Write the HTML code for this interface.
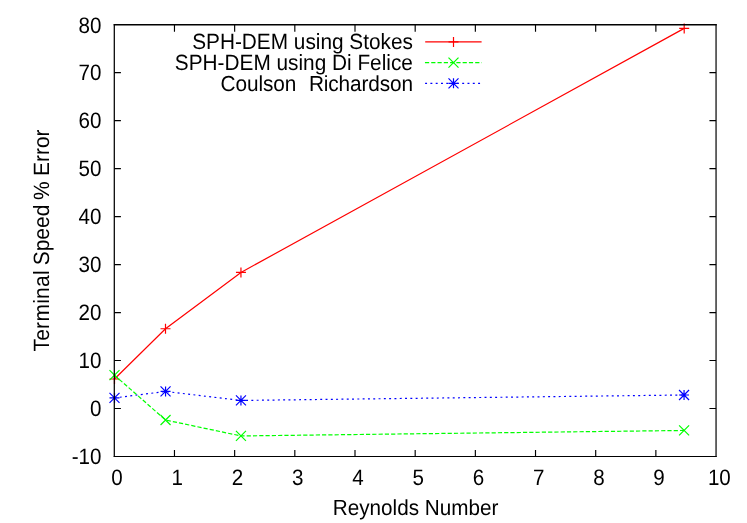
<!DOCTYPE html>
<html><head><meta charset="utf-8"><title>plot</title>
<style>
html,body{margin:0;padding:0;background:#fff;}
body{width:747px;height:523px;overflow:hidden;font-family:"Liberation Sans",sans-serif;}
svg{display:block;}
</style></head><body>
<svg width="747" height="523" viewBox="0 0 747 523" style="will-change:transform">
<rect width="747" height="523" fill="#fff"/>
<g font-family="Liberation Sans, sans-serif" fill="#000" text-rendering="geometricPrecision"><text transform="translate(101.50,463.80) scale(1,1.085)" text-anchor="end" font-size="20.6" xml:space="preserve">-10</text><text transform="translate(101.50,416.12) scale(1,1.085)" text-anchor="end" font-size="20.6" xml:space="preserve">0</text><text transform="translate(101.50,367.54) scale(1,1.085)" text-anchor="end" font-size="20.6" xml:space="preserve">10</text><text transform="translate(101.50,319.67) scale(1,1.085)" text-anchor="end" font-size="20.6" xml:space="preserve">20</text><text transform="translate(101.50,271.79) scale(1,1.085)" text-anchor="end" font-size="20.6" xml:space="preserve">30</text><text transform="translate(101.50,223.51) scale(1,1.085)" text-anchor="end" font-size="20.6" xml:space="preserve">40</text><text transform="translate(101.50,175.73) scale(1,1.085)" text-anchor="end" font-size="20.6" xml:space="preserve">50</text><text transform="translate(101.50,127.96) scale(1,1.085)" text-anchor="end" font-size="20.6" xml:space="preserve">60</text><text transform="translate(101.50,80.38) scale(1,1.085)" text-anchor="end" font-size="20.6" xml:space="preserve">70</text><text transform="translate(101.50,32.60) scale(1,1.085)" text-anchor="end" font-size="20.6" xml:space="preserve">80</text><text transform="translate(116.90,484.50) scale(1,1.085)" text-anchor="middle" font-size="20.6" xml:space="preserve">0</text><text transform="translate(177.14,484.50) scale(1,1.085)" text-anchor="middle" font-size="20.6" xml:space="preserve">1</text><text transform="translate(237.39,484.50) scale(1,1.085)" text-anchor="middle" font-size="20.6" xml:space="preserve">2</text><text transform="translate(297.63,484.50) scale(1,1.085)" text-anchor="middle" font-size="20.6" xml:space="preserve">3</text><text transform="translate(357.88,484.50) scale(1,1.085)" text-anchor="middle" font-size="20.6" xml:space="preserve">4</text><text transform="translate(418.13,484.50) scale(1,1.085)" text-anchor="middle" font-size="20.6" xml:space="preserve">5</text><text transform="translate(478.37,484.50) scale(1,1.085)" text-anchor="middle" font-size="20.6" xml:space="preserve">6</text><text transform="translate(538.62,484.50) scale(1,1.085)" text-anchor="middle" font-size="20.6" xml:space="preserve">7</text><text transform="translate(598.86,484.50) scale(1,1.085)" text-anchor="middle" font-size="20.6" xml:space="preserve">8</text><text transform="translate(659.10,484.50) scale(1,1.085)" text-anchor="middle" font-size="20.6" xml:space="preserve">9</text><text transform="translate(719.35,484.50) scale(1,1.085)" text-anchor="middle" font-size="20.6" xml:space="preserve">10</text><text transform="translate(415.60,515.40) scale(1,1.055)" text-anchor="middle" font-size="20.7" xml:space="preserve">Reynolds Number</text><text transform="translate(49.00,351.60) rotate(-90) scale(1,1.055)" text-anchor="start" font-size="20.95" xml:space="preserve"><tspan letter-spacing="0.3">Terminal</tspan><tspan dx="-1.0"> Speed</tspan><tspan dx="-1.0"> %</tspan><tspan dx="-0.5"> Error</tspan></text><text transform="translate(412.90,48.90) scale(1,1.06)" text-anchor="end" font-size="20.8" xml:space="preserve">SPH-DEM using Stokes</text><text transform="translate(412.90,69.60) scale(1,1.06)" text-anchor="end" font-size="20.8" xml:space="preserve">SPH-DEM using Di Felice</text><text transform="translate(412.90,90.50) scale(1,1.045)" text-anchor="end" font-size="20.8" xml:space="preserve"><tspan letter-spacing="-0.08">Coulson</tspan>  <tspan dx="1.0" letter-spacing="-0.12">Richardson</tspan></text></g>
<g fill="none" stroke="#ff0000" stroke-width="1.2"><path d="M114.5 379.0L165.5 328.75L240.95 272.45L684.2 28.4"/><path d="M425.2 41.95H481.6"/><path d="M109.5 379.0H119.5M114.5 374.0V384.0M160.5 328.75H170.5M165.5 323.75V333.75M235.95 272.45H245.95M240.95 267.45V277.45M679.2 28.4H689.2M684.2 23.4V33.4M448.5 41.95H458.5M453.5 36.95V46.95"/></g>
<g fill="none" stroke="#00ff00" stroke-width="1.2"><path d="M114.5 375.2L165.55 420.0L240.95 435.95L684.1 430.45" stroke-dasharray="4.2 2.08"/><path d="M424.95 62.65H481.8" stroke-dasharray="4.2 2.08"/><path d="M109.5 370.2L119.5 380.2M109.5 380.2L119.5 370.2M160.55 415.0L170.55 425.0M160.55 425.0L170.55 415.0M235.95 430.95L245.95 440.95M235.95 440.95L245.95 430.95M679.1 425.45L689.1 435.45M679.1 435.45L689.1 425.45M448.5 57.65L458.5 67.65M448.5 67.65L458.5 57.65"/></g>
<g fill="none" stroke="#0000ff" stroke-width="1.2"><path d="M114.5 397.9L165.55 391.45L240.95 400.45L684.05 395.0" stroke-dasharray="1.95 3.35"/><path d="M425.1 83.35H480.3" stroke-dasharray="1.95 3.35"/><path d="M109.5 397.9H119.5M114.5 392.9V402.9M109.5 392.9L119.5 402.9M109.5 402.9L119.5 392.9M160.55 391.45H170.55M165.55 386.45V396.45M160.55 386.45L170.55 396.45M160.55 396.45L170.55 386.45M235.95 400.45H245.95M240.95 395.45V405.45M235.95 395.45L245.95 405.45M235.95 405.45L245.95 395.45M679.05 395.0H689.05M684.05 390.0V400.0M679.05 390.0L689.05 400.0M679.05 400.0L689.05 390.0M448.5 83.35H458.5M453.5 78.35V88.35M448.5 78.35L458.5 88.35M448.5 88.35L458.5 78.35"/></g>
<g fill="none" stroke="#000"><path d="M114.3 24.099999999999998V457.0" stroke-width="1.25"/><path d="M716.05 24.099999999999998V457.0" stroke-width="1.2"/><path d="M113.7 24.7H716.65" stroke-width="1.4"/><path d="M113.7 456.5H716.65" stroke-width="1.1"/><path d="M174.47 456.5v-6.6M174.47 24.7v7.0M234.65 456.5v-6.6M234.65 24.7v7.0M294.82 456.5v-6.6M294.82 24.7v7.0M355.0 456.5v-6.6M355.0 24.7v7.0M415.18 456.5v-6.6M415.18 24.7v7.0M475.35 456.5v-6.6M475.35 24.7v7.0M535.52 456.5v-6.6M535.52 24.7v7.0M595.7 456.5v-6.6M595.7 24.7v7.0M655.87 456.5v-6.6M655.87 24.7v7.0M114.3 408.52h6.6M716.05 408.52h-6.6M114.3 360.54h6.6M716.05 360.54h-6.6M114.3 312.57h6.6M716.05 312.57h-6.6M114.3 264.59h6.6M716.05 264.59h-6.6M114.3 216.61h6.6M716.05 216.61h-6.6M114.3 168.63h6.6M716.05 168.63h-6.6M114.3 120.66h6.6M716.05 120.66h-6.6M114.3 72.68h6.6M716.05 72.68h-6.6" stroke-width="1.15"/></g>
</svg>
</body></html>
